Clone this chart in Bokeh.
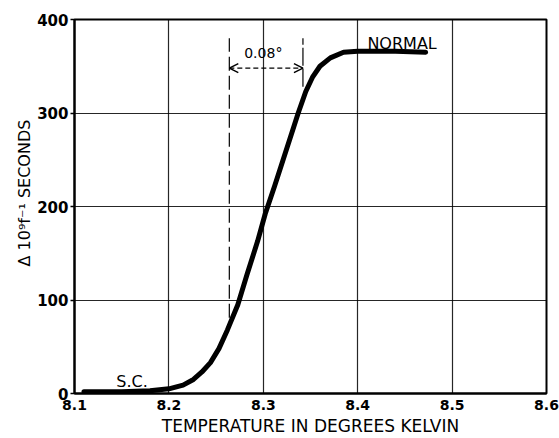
from bokeh.plotting import figure
from bokeh.models import Arrow, OpenHead, FixedTicker, Range1d, Title
from bokeh.core.properties import value
from bokeh.embed import file_html
from bokeh.resources import INLINE

# ---- data ----
temperature = [8.110, 8.150, 8.180, 8.200, 8.215, 8.226, 8.235, 8.244, 8.253, 8.262,
               8.273, 8.283, 8.294, 8.302, 8.312, 8.321, 8.330, 8.337, 8.345, 8.352,
               8.360, 8.371, 8.385, 8.400, 8.440, 8.472]
delta_f = [2, 2, 3, 5, 9, 15, 23, 33, 48, 68,
           95, 128, 163, 192, 222, 250, 278, 300, 323, 338,
           350, 359, 365, 366, 366, 365]

x_ticks = [8.1, 8.2, 8.3, 8.4, 8.5, 8.6]
y_ticks = [0, 100, 200, 300, 400]

# width-of-transition bracket
bracket_left = 8.264
bracket_right = 8.342
bracket_left_bottom = 81
bracket_right_bottom = 328
bracket_top = 380
arrow_level = 348
bracket_text = "0.08°"
bracket_text_pos = (8.300, 364)
normal_text = "NORMAL"
normal_pos = (8.447, 374)
sc_text = "S.C."
sc_pos = (8.161, 13)

FONT = "DejaVu Sans"

p = figure(width=559, height=438, output_backend="svg", toolbar_location=None,
           x_range=Range1d(8.1, 8.6), y_range=Range1d(0, 400),
           min_border_left=74, min_border_right=13, min_border_top=19, min_border_bottom=44)

p.background_fill_color = "white"
p.border_fill_color = "white"
p.outline_line_color = "black"
p.outline_line_width = 2

# axes
for ax in (p.xaxis, p.yaxis):
    ax.axis_line_width = 2
    ax.axis_line_color = "black"
    ax.minor_tick_line_color = None
    ax.major_label_text_color = "black"
    ax.major_label_text_font = FONT
    ax.major_label_text_font_style = "bold"

p.xaxis.ticker = FixedTicker(ticks=x_ticks)
p.yaxis.ticker = FixedTicker(ticks=y_ticks)
p.xaxis.major_label_overrides = {t: f"{t:.1f}" for t in x_ticks}
p.xaxis.major_tick_out = 0
p.xaxis.major_tick_in = 0
p.xaxis.major_label_standoff = 6
p.xaxis.major_label_text_font_size = "14px"
p.xaxis.axis_label = "TEMPERATURE IN DEGREES KELVIN"
p.xaxis.axis_label_text_font = FONT
p.xaxis.axis_label_text_font_style = "normal"
p.xaxis.axis_label_text_font_size = "17px"
p.xaxis.axis_label_text_color = "black"
p.xaxis.axis_label_standoff = 3

p.yaxis.major_tick_out = 4
p.yaxis.major_tick_in = 0
p.yaxis.major_tick_line_width = 1.5
p.yaxis.major_label_standoff = 2
p.yaxis.major_label_text_font_size = "15px"

# grid
p.xgrid.ticker = FixedTicker(ticks=x_ticks)
p.ygrid.ticker = FixedTicker(ticks=y_ticks)
for g in (p.xgrid, p.ygrid):
    g.grid_line_color = "black"
    g.grid_line_width = 1.2
    g.grid_line_alpha = 0.85

# curve
p.line(temperature, delta_f, line_color="black", line_width=5, line_cap="round", line_join="round")

# bracket verticals
p.line([bracket_left, bracket_left], [bracket_left_bottom, bracket_top],
       line_color="black", line_width=1.2, line_dash="14 5")
p.line([bracket_right, bracket_right], [bracket_right_bottom, bracket_top],
       line_color="black", line_width=1.2, line_dash="18 3")

# double arrow, dashed
p.add_layout(Arrow(x_start=bracket_left, x_end=bracket_right, y_start=arrow_level, y_end=arrow_level,
                   line_color="black", line_width=1.2, line_dash="5 3",
                   start=OpenHead(size=9, line_width=1.5, line_color="black"),
                   end=OpenHead(size=9, line_width=1.5, line_color="black")))

p.text(x=[bracket_text_pos[0]], y=[bracket_text_pos[1]], text=[bracket_text],
       text_align="center", text_baseline="middle", text_font_size="14px",
       text_color="black", text_font=value(FONT))
p.text(x=[normal_pos[0]], y=[normal_pos[1]], text=[normal_text],
       text_align="center", text_baseline="middle", text_font_size="16px",
       text_color="black", text_font=value(FONT))
p.text(x=[sc_pos[0]], y=[sc_pos[1]], text=[sc_text],
       text_align="center", text_baseline="middle", text_font_size="16px",
       text_color="black", text_font=value(FONT))

# y axis label as a left-side title, shifted upward
p.add_layout(Title(text="Δ 10⁹f⁻¹  SECONDS", align="left", offset=127,
                   text_font=FONT, text_font_size="16px", text_font_style="normal",
                   text_color="black", standoff=1), "left")

open("out.html", "w").write(file_html(p, INLINE))
